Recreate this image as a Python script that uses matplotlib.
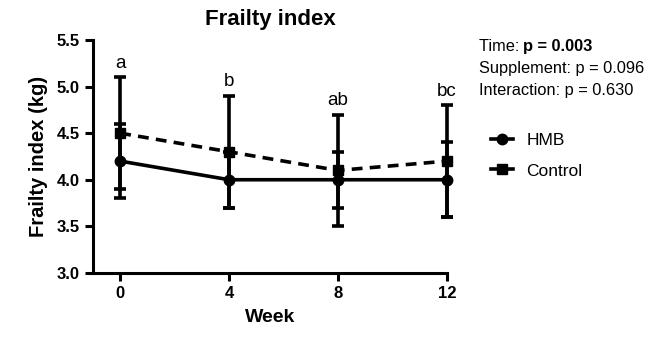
import numpy as np
import matplotlib.pyplot as plt
from matplotlib.lines import Line2D

plt.rcParams['font.family'] = ['Liberation Sans', 'DejaVu Sans']

weeks = [0, 4, 8, 12]
hmb_mean = [4.2, 4.0, 4.0, 4.0]
hmb_err = [0.4, 0.3, 0.3, 0.4]
ctrl_mean = [4.5, 4.3, 4.1, 4.2]
ctrl_err = [0.6, 0.6, 0.6, 0.6]
letters = ["a", "b", "ab", "bc"]
letter_y = [5.25, 5.05, 4.85, 4.95]

fig = plt.figure(figsize=(6.69, 3.39), dpi=100)
ax = fig.add_axes([0.139, 0.195, 0.529, 0.687])

lw = 2.6
for mean, err, ls, mk in [(ctrl_mean, ctrl_err, (0, (3, 2)), 's'),
                          (hmb_mean, hmb_err, '-', 'o')]:
    lines = ax.errorbar(weeks, mean, yerr=err, color='black', ls=ls, lw=lw,
                        marker=mk, ms=7.5, capsize=4, capthick=lw, elinewidth=lw)
    for art in lines.lines[0:1] + tuple(lines.lines[1]) + tuple(lines.lines[2]):
        art.set_clip_on(False)

for x, y, t in zip(weeks, letter_y, letters):
    ax.text(x, y, t, ha='center', va='center', fontsize=13.5)

ax.set_xlim(-1, 12)
ax.set_ylim(3.0, 5.5)
ax.set_xticks(weeks)
ax.set_yticks([3.0, 3.5, 4.0, 4.5, 5.0, 5.5])
ax.set_yticklabels(["3.0", "3.5", "4.0", "4.5", "5.0", "5.5"])
for s in ['top', 'right']:
    ax.spines[s].set_visible(False)
for s in ['left', 'bottom']:
    ax.spines[s].set_linewidth(2.2)
ax.tick_params(width=2.2, length=6, labelsize=12, direction='out')
for lab in ax.get_xticklabels() + ax.get_yticklabels():
    lab.set_fontweight('bold')

ax.set_title("Frailty index", fontsize=16, fontweight='bold', pad=11)
ax.set_xlabel("Week", fontsize=14, fontweight='bold', labelpad=6)
ax.set_ylabel("Frailty index (kg)", fontsize=14.5, fontweight='bold', labelpad=6)

fig.text(0.716, 0.862, "Time: ", fontsize=11.8, va='center')
fig.text(0.782, 0.862, "p = 0.003", fontsize=11.8, va='center', fontweight='bold')
fig.text(0.716, 0.797, "Supplement: p = 0.096", fontsize=11.8, va='center')
fig.text(0.716, 0.732, "Interaction: p = 0.630", fontsize=11.8, va='center')

handles = [Line2D([], [], color='black', lw=lw, marker='o', ms=7.5),
           Line2D([], [], color='black', lw=lw, marker='s', ms=7.5)]
fig.legend(handles, ["HMB", "Control"], loc='upper left', bbox_to_anchor=(0.71, 0.655),
           frameon=False, fontsize=12.5, handlelength=1.3, handletextpad=0.75,
           labelspacing=0.9)

fig.savefig("out.png", dpi=100)
